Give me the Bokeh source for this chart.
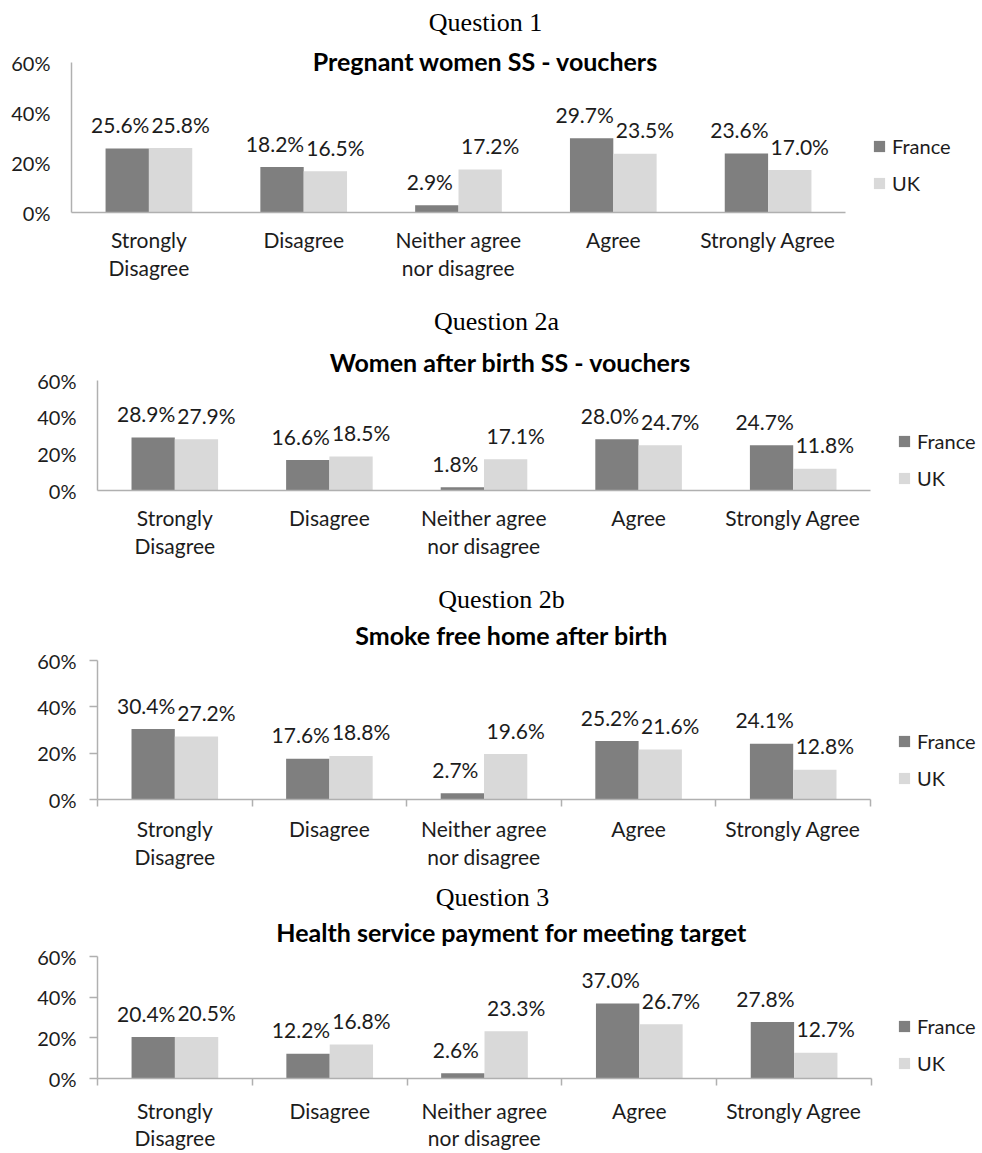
from bokeh.plotting import figure
from bokeh.layouts import column
from bokeh.models import (Range1d, FixedTicker, PrintfTickFormatter, Label, Legend,
                          LegendItem, ColumnDataSource)
from bokeh.core.properties import value
from bokeh.embed import file_html
from bokeh.resources import INLINE

# ---------------- data ----------------
categories = ["Strongly\nDisagree", "Disagree", "Neither agree\nnor disagree",
              "Agree", "Strongly Agree"]
series_names = ["France", "UK"]
questions = ["Question 1", "Question 2a", "Question 2b", "Question 3"]
titles = ["Pregnant women SS - vouchers",
          "Women after birth SS - vouchers",
          "Smoke free home after birth",
          "Health service payment for meeting target"]

q1_france = [25.6, 18.2, 2.9, 29.7, 23.6]
q1_uk = [25.8, 16.5, 17.2, 23.5, 17.0]
q2a_france = [28.9, 16.6, 1.8, 28.0, 24.7]
q2a_uk = [27.9, 18.5, 17.1, 24.7, 11.8]
q2b_france = [30.4, 17.6, 2.7, 25.2, 24.1]
q2b_uk = [27.2, 18.8, 19.6, 21.6, 12.8]
q3_france = [20.4, 12.2, 2.6, 37.0, 27.8]
q3_uk = [20.5, 16.8, 23.3, 26.7, 12.7]

y_ticks = [0, 20, 40, 60]

france_data = [q1_france, q2a_france, q2b_france, q3_france]
uk_data = [q1_uk, q2a_uk, q2b_uk, q3_uk]

# ---------------- styling / layout ----------------
FRANCE_C = "#7f7f7f"
UK_C = "#d9d9d9"
AXIS_C = "#b0b0b0"
TEXT_C = "#1c1c1c"
SANS = "Lato"
SERIF = "Liberation Serif"
FIG_W = 982
BAR_W = 0.28

# page-pixel layout of each panel (page has no margin)
specs = [
    dict(top=0, bottom=290, ax_left=71, ax_right=845, y60=62, y0=212,
         q=(485, 22), t=(485, 60), leg_x=872, leg_uk=183, ticks=False, xs=10, lh=1.15),
    dict(top=290, bottom=570, ax_left=97, ax_right=870, y60=380, y0=490,
         q=(496, 321), t=(510, 361), leg_x=897, leg_uk=478, ticks=False, xs=10, lh=1.15),
    dict(top=570, bottom=878, ax_left=97, ax_right=870, y60=660, y0=799,
         q=(501, 599), t=(511, 634), leg_x=897, leg_uk=778, ticks=True, xs=9, lh=1.15),
    dict(top=878, bottom=1153, ax_left=97, ax_right=871, y60=959, y0=1085,
         q=(492, 904), t=(511, 938), leg_x=897, leg_uk=1070, ticks=True, xs=12, lh=1.1),
]

figs = []
for k, s in enumerate(specs):
    unit = (s["ax_right"] - s["ax_left"]) / len(categories)
    x_end = (FIG_W - s["ax_left"]) / unit
    y_end = 60 * (s["y0"] - s["top"]) / (s["y0"] - s["y60"])

    p = figure(width=FIG_W, height=s["bottom"] - s["top"], output_backend="svg",
               toolbar_location=None, title=None,
               x_range=Range1d(0, x_end), y_range=Range1d(0, y_end),
               min_border_left=s["ax_left"], min_border_right=0,
               min_border_top=0, min_border_bottom=s["bottom"] - s["y0"])
    try:
        p.frame_align = False
    except Exception:
        pass
    p.outline_line_color = None
    p.xgrid.visible = False
    p.ygrid.visible = False
    p.background_fill_color = "white"
    p.border_fill_color = "white"

    centers = [i + 0.5 for i in range(len(categories))]
    fr = france_data[k]
    uk = uk_data[k]
    src = ColumnDataSource(dict(
        xf=[c - BAR_W / 2 for c in centers],
        xu=[c + BAR_W / 2 for c in centers],
        fr=fr, uk=uk,
        fr_lbl=[f"{v:.1f}%" for v in fr],
        uk_lbl=[f"{v:.1f}%" for v in uk],
    ))
    r_fr = p.vbar(x="xf", top="fr", width=BAR_W, source=src,
                  fill_color=FRANCE_C, line_color=None)
    r_uk = p.vbar(x="xu", top="uk", width=BAR_W, source=src,
                  fill_color=UK_C, line_color=None)

    p.text(x="xf", y="fr", text="fr_lbl", source=src, text_align="center",
           text_baseline="middle", y_offset=-24, x_offset=-7,
           text_font=value(SANS), text_font_size="21px", text_color=TEXT_C)
    p.text(x="xu", y="uk", text="uk_lbl", source=src, text_align="center",
           text_baseline="middle", y_offset=-24, x_offset=10,
           text_font=value(SANS), text_font_size="21px", text_color=TEXT_C)

    # x axis
    xax = p.xaxis[0]
    xax.ticker = FixedTicker(ticks=centers, minor_ticks=list(range(len(categories) + 1)))
    xax.major_label_overrides = {c: cat for c, cat in zip(centers, categories)}
    xax.bounds = (0, len(categories))
    xax.axis_line_color = AXIS_C
    xax.axis_line_width = 1.5
    xax.major_tick_line_color = None
    xax.major_tick_in = 0
    xax.major_tick_out = 0
    if s["ticks"]:
        xax.minor_tick_line_color = AXIS_C
        xax.minor_tick_line_width = 1.5
        xax.minor_tick_in = 0
        xax.minor_tick_out = 7
    else:
        xax.minor_tick_line_color = None
    xax.major_label_text_font = SANS
    xax.major_label_text_font_size = "21px"
    xax.major_label_text_line_height = s["lh"]
    xax.major_label_text_color = TEXT_C
    xax.major_label_standoff = s["xs"]

    # y axis
    yax = p.yaxis[0]
    yax.ticker = FixedTicker(ticks=y_ticks, minor_ticks=[])
    yax.formatter = PrintfTickFormatter(format="%d%%")
    yax.bounds = (0, 60)
    yax.axis_line_color = AXIS_C
    yax.axis_line_width = 1.5
    yax.minor_tick_line_color = None
    yax.major_tick_in = 0
    if s["ticks"]:
        yax.major_tick_out = 8
        yax.major_tick_line_color = AXIS_C
        yax.major_tick_line_width = 1.5
        yax.major_label_standoff = 13
    else:
        yax.major_tick_out = 0
        yax.major_tick_line_color = None
        yax.major_label_standoff = 21
    yax.major_label_text_font = SANS
    yax.major_label_text_font_size = "20px"
    yax.major_label_text_color = TEXT_C

    # titles
    p.add_layout(Label(x=s["q"][0] - s["ax_left"], y=s["y0"] - s["q"][1],
                       x_units="screen", y_units="screen", text=questions[k],
                       text_align="center", text_baseline="middle",
                       text_font=SERIF, text_font_size="26px", text_color="#000000"))
    p.add_layout(Label(x=s["t"][0] - s["ax_left"], y=s["y0"] - s["t"][1],
                       x_units="screen", y_units="screen", text=titles[k],
                       text_align="center", text_baseline="middle",
                       text_font=SANS, text_font_size="25px", text_font_style="bold",
                       text_color="#000000"))

    # legend
    legend = Legend(items=[LegendItem(label=series_names[0], renderers=[r_fr]),
                           LegendItem(label=series_names[1], renderers=[r_uk])],
                    location=(s["leg_x"] - s["ax_left"], s["y0"] - s["leg_uk"] - 12),
                    orientation="vertical", glyph_width=14, glyph_height=14,
                    label_standoff=6, label_height=20, spacing=13, padding=0, margin=0,
                    label_text_font=SANS, label_text_font_size="20px",
                    label_text_color=TEXT_C, border_line_color=None,
                    background_fill_alpha=0)
    p.add_layout(legend)

    figs.append(p)

layout = column(*figs, spacing=0)
open("out.html", "w").write(file_html(layout, INLINE))
